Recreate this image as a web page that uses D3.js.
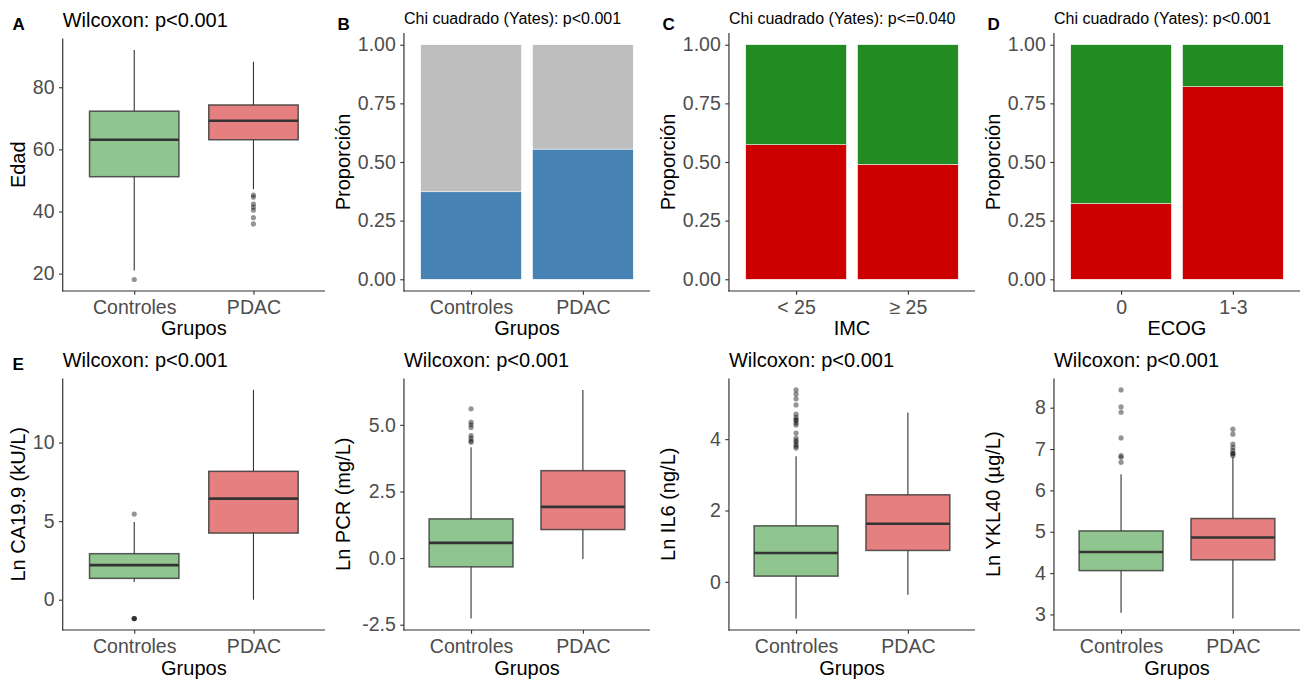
<!DOCTYPE html>
<html>
<head>
<meta charset="utf-8">
<script src="https://cdn.jsdelivr.net/npm/d3@7"></script>
<style>
  html, body { margin: 0; padding: 0; background: #fff; }
  svg { display: block; font-family: "Liberation Sans", Arial, sans-serif; }
</style>
</head>
<body>
<svg id="fig" width="1306" height="682"></svg>
<script>
// ---- data ----
const groups = ["Controles", "PDAC"];

// box statistics: [lower whisker, Q1, median, Q3, upper whisker]
const edadStats = [[21, 51.2, 63.1, 72.3, 92], [47.2, 63.1, 69.2, 74.3, 88.2]];
const edadOut = [[18.1], [45.3, 44.6, 42.4, 41.4, 40.4, 38, 36]];
const edadTicks = [20, 40, 60, 80];

const caStats = [[1.12, 1.36, 2.2, 2.93, 4.94], [0.0, 4.24, 6.43, 8.17, 13.35]];
const caOut = [[5.45, -1.2, -1.2, -1.2], []];
const caTicks = [0, 5, 10];

const pcrStats = [[-2.27, -0.33, 0.57, 1.47, 4.16], [-0.03, 1.07, 1.92, 3.28, 6.31]];
const pcrOut = [[5.6, 5.1, 5.0, 4.9, 4.6, 4.5, 4.4, 4.35], []];
const pcrTicks = [-2.5, 0, 2.5, 5];

const il6Stats = [[-1.03, 0.16, 0.81, 1.57, 3.52], [-0.36, 0.88, 1.63, 2.44, 4.75]];
const il6Out = [[5.38, 5.26, 5.13, 4.96, 4.70, 4.61, 4.55, 4.52, 4.45, 4.40, 4.17, 4.03, 3.96, 3.92, 3.85, 3.80, 3.75], []];
const il6Ticks = [0, 2, 4];

const yklStats = [[3.04, 4.06, 4.51, 5.02, 6.39], [2.90, 4.32, 4.86, 5.32, 6.80]];
const yklOut = [[8.43, 8.02, 7.89, 7.27, 6.84, 6.80, 6.68], [7.48, 7.36, 7.12, 7.04, 6.96, 6.90, 6.88, 6.84]];
const yklTicks = [3, 4, 5, 6, 7, 8];

// stacked proportions (lower segment share)
const grupoBlue = [0.373, 0.555];
const imcCats = ["< 25", "\u2265 25"];
const imcRed = [0.574, 0.49];
const ecogCats = ["0", "1-3"];
const ecogRed = [0.323, 0.821];
const propTicks = [0, 0.25, 0.5, 0.75, 1];

// ---- styling ----
const GREEN = "#228B22", RED = "#CD0000", BLUE = "#4682B4", GREY = "#BEBEBE";
const INK = "#333333", TICKTXT = "#4D4D4D";
const TICK_FS = 19.5, TITLE_FS = 20;

const svg = d3.select("#fig");

const panels = [
  { col: 0, row: 0, letter: "A", kind: "box", title: "Wilcoxon: p<0.001", tfs: 20, ylab: "Edad", xlab: "Grupos",
    stats: edadStats, out: edadOut, ticks: edadTicks, fmt: d => String(d) },
  { col: 1, row: 0, letter: "B", kind: "bar", title: "Chi cuadrado (Yates): p<0.001", tfs: 16, ylab: "Proporci\u00f3n", xlab: "Grupos",
    cats: groups, low: grupoBlue, colors: [BLUE, GREY], ticks: propTicks, fmt: d => d.toFixed(2) },
  { col: 2, row: 0, letter: "C", kind: "bar", title: "Chi cuadrado (Yates): p<=0.040", tfs: 16, ylab: "Proporci\u00f3n", xlab: "IMC",
    cats: imcCats, low: imcRed, colors: [RED, GREEN], ticks: propTicks, fmt: d => d.toFixed(2) },
  { col: 3, row: 0, letter: "D", kind: "bar", title: "Chi cuadrado (Yates): p<0.001", tfs: 16, ylab: "Proporci\u00f3n", xlab: "ECOG",
    cats: ecogCats, low: ecogRed, colors: [RED, GREEN], ticks: propTicks, fmt: d => d.toFixed(2) },
  { col: 0, row: 1, letter: "E", kind: "box", title: "Wilcoxon: p<0.001", tfs: 20, ylab: "Ln CA19.9 (kU/L)", xlab: "Grupos",
    stats: caStats, out: caOut, ticks: caTicks, fmt: d => String(d) },
  { col: 1, row: 1, letter: "", kind: "box", title: "Wilcoxon: p<0.001", tfs: 20, ylab: "Ln PCR (mg/L)", xlab: "Grupos",
    stats: pcrStats, out: pcrOut, ticks: pcrTicks, fmt: d => d.toFixed(1) },
  { col: 2, row: 1, letter: "", kind: "box", title: "Wilcoxon: p<0.001", tfs: 20, ylab: "Ln IL6 (ng/L)", xlab: "Grupos",
    stats: il6Stats, out: il6Out, ticks: il6Ticks, fmt: d => String(d) },
  { col: 3, row: 1, letter: "", kind: "box", title: "Wilcoxon: p<0.001", tfs: 20, ylab: "Ln YKL40 (\u00b5g/L)", xlab: "Grupos",
    stats: yklStats, out: yklOut, ticks: yklTicks, fmt: d => String(d) }
];

const colX = [0, 325, 650, 975];
const rowY = [0, 340];

// measure tick label widths so y axes line up within each column
const meas = svg.append("text").attr("font-size", TICK_FS);
function textW(s) { meas.text(s); return meas.node().getComputedTextLength(); }
const colLabelW = [0, 0, 0, 0];
panels.forEach(p => {
  p.ticks.forEach(t => { colLabelW[p.col] = Math.max(colLabelW[p.col], textW(p.fmt(t))); });
});
meas.remove();

panels.forEach(p => {
  const ox = colX[p.col], oy = rowY[p.row];
  const left = ox + 33 + colLabelW[p.col] + 8;
  const right = ox + 325;
  const top = oy + (p.tfs === 20 ? 38.5 : 33);
  const bottom = oy + (p.row === 0 ? 291 : 290);

  const cats = p.kind === "bar" ? p.cats : groups;
  const x = d3.scalePoint().domain(cats).range([left, right]).padding(0.6);
  const step = x.step();

  let y;
  if (p.kind === "bar") {
    y = d3.scaleLinear().domain([-0.05, 1.05]).range([bottom, top]);
  } else {
    const all = p.stats.flat().concat(p.out.flat());
    const lo = d3.min(all), hi = d3.max(all), pad = (hi - lo) * 0.05;
    y = d3.scaleLinear().domain([lo - pad, hi + pad]).range([bottom, top]);
  }

  const g = svg.append("g");

  if (p.kind === "bar") {
    const bw = step * 0.9;
    cats.forEach((c, i) => {
      const segs = [[0, p.low[i]], [p.low[i], 1]];
      segs.forEach((s, k) => {
        g.append("rect")
          .attr("x", x(c) - bw / 2).attr("width", bw)
          .attr("y", y(s[1])).attr("height", y(s[0]) - y(s[1]))
          .attr("fill", p.colors[k])
          .attr("stroke", "#ffffff").attr("stroke-width", 0.5);
      });
    });
  } else {
    const bw = step * 0.75;
    const fills = [GREEN, RED];
    groups.forEach((c, i) => {
      const [wl, q1, md, q3, wh] = p.stats[i];
      const cx = x(c);
      g.append("line").attr("x1", cx).attr("x2", cx).attr("y1", y(q3)).attr("y2", y(wh))
        .attr("stroke", INK).attr("stroke-width", 1.1);
      g.append("line").attr("x1", cx).attr("x2", cx).attr("y1", y(q1)).attr("y2", y(wl))
        .attr("stroke", INK).attr("stroke-width", 1.1);
      g.append("rect").attr("x", cx - bw / 2).attr("width", bw)
        .attr("y", y(q3)).attr("height", y(q1) - y(q3))
        .attr("fill", fills[i]).attr("fill-opacity", 0.5)
        .attr("stroke", INK).attr("stroke-opacity", 0.8).attr("stroke-width", 1.5);
      g.append("line").attr("x1", cx - bw / 2).attr("x2", cx + bw / 2)
        .attr("y1", y(md)).attr("y2", y(md))
        .attr("stroke", INK).attr("stroke-width", 2.6);
      g.selectAll(null).data(p.out[i]).enter().append("circle")
        .attr("cx", cx).attr("cy", d => y(d)).attr("r", 2.6)
        .attr("fill", "#000").attr("fill-opacity", 0.42);
    });
  }

  // axes
  const ya = d3.axisLeft(y).tickValues(p.ticks).tickFormat(p.fmt).tickSize(3.7).tickSizeOuter(0).tickPadding(4.5);
  const yg = svg.append("g").attr("transform", `translate(${left},0)`).call(ya);
  const xa = d3.axisBottom(x).tickSize(3.7).tickSizeOuter(0).tickPadding(5);
  const xg = svg.append("g").attr("transform", `translate(0,${bottom})`).call(xa);
  [yg, xg].forEach(a => {
    a.selectAll("path.domain").attr("stroke", INK).attr("stroke-width", 1.2);
    a.selectAll(".tick line").attr("stroke", INK).attr("stroke-width", 1.1);
    a.selectAll(".tick text").attr("fill", TICKTXT).attr("font-size", TICK_FS)
      .attr("font-family", "Liberation Sans, Arial, sans-serif");
  });
  // extend domain lines so they meet at the corner
  yg.select("path.domain").attr("d", `M0,${top}V${bottom + 0.6}`);
  xg.select("path.domain").attr("d", `M${left - 0.6},0H${right}`);

  // titles and labels
  svg.append("text").attr("x", left).attr("y", top - (p.tfs === 20 ? 11.5 : 9.5))
    .attr("font-size", p.tfs).attr("fill", "#000").text(p.title);
  if (p.letter) {
    svg.append("text").attr("x", ox + 12.5).attr("y", oy + 30)
      .attr("font-size", 17).attr("font-weight", "bold").attr("fill", "#000").text(p.letter);
  }
  svg.append("text").attr("transform", `translate(${ox + 25},${(top + bottom) / 2}) rotate(-90)`)
    .attr("text-anchor", "middle").attr("font-size", TITLE_FS).attr("fill", "#000").text(p.ylab);
  svg.append("text").attr("x", (left + right) / 2).attr("y", oy + 335)
    .attr("text-anchor", "middle").attr("font-size", TITLE_FS).attr("fill", "#000").text(p.xlab);
});
</script>
</body>
</html>
